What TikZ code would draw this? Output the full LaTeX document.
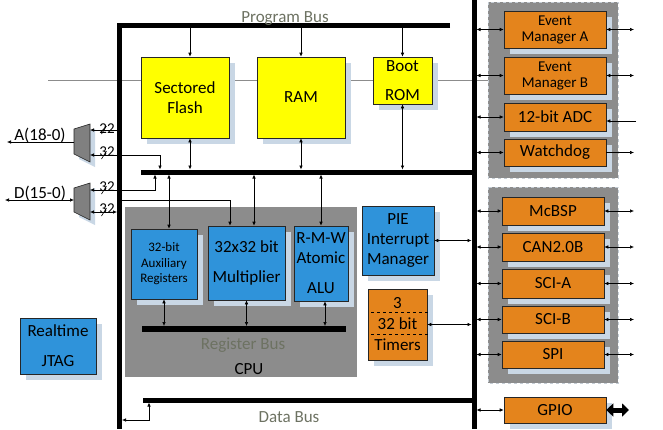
\documentclass[tikz,border=0pt]{standalone}
\usepackage{fontspec}
\setmainfont{Carlito}
\usetikzlibrary{arrows.meta,shadows}
\definecolor{memyellow}{HTML}{FFFF00}
\definecolor{cpublue}{HTML}{2F93DA}
\definecolor{perorange}{HTML}{E4841C}
\definecolor{shadowcol}{HTML}{C9D7E5}
\definecolor{grpgray}{HTML}{8C8C8C}
\definecolor{grpline}{HTML}{C4CCD4}
\definecolor{buslabel}{HTML}{6D7262}
\definecolor{muxgray}{HTML}{808080}
\tikzset{
	unit/.style={draw=black!85,line width=0.6pt,inner sep=1pt,align=center,font=\fontsize{17}{20}\selectfont,drop shadow={shadow xshift=6pt,shadow yshift=-6pt,fill=shadowcol,opacity=1}},
	mem/.style 2 args={unit,fill=memyellow,minimum width=#1pt,minimum height=#2pt},
	cpu/.style 2 args={unit,fill=cpublue,minimum width=#1pt,minimum height=#2pt},
	per/.style 2 args={unit,fill=perorange,minimum width=#1pt,minimum height=#2pt},
	bus/.style={line width=5pt},
	link/.style={line width=0.6pt,-{Latex[length=4pt,width=3.5pt]}},
	dlink/.style={line width=0.6pt,{Latex[length=4pt,width=3.5pt]}-{Latex[length=4pt,width=3.5pt]}},
	grp/.style={fill=grpgray,draw=grpline,dashed,line width=0.8pt},
	buslbl/.style={text=buslabel,font=\fontsize{17}{20}\selectfont,anchor=base,inner sep=0pt},
	wlbl/.style={font=\fontsize{15}{18}\selectfont,anchor=base,inner sep=0pt},
	mux/.style={fill=muxgray,draw=black!85,line width=0.6pt}
}
\begin{document}
\begin{tikzpicture}[x=1pt,y=-1pt]
	\useasboundingbox (0,0) rectangle (663,429);
	\draw[grp] (488,2) rectangle (618,178);
	\draw[grp] (488,187) rectangle (618,383);
	\fill[grpgray] (125,207) rectangle (357,377);
	\draw[black!45,line width=0.5pt] (48,80) -- (488,80);

	\draw[bus] (450,25.4) -- (119.5,25.4) -- (119.5,429);
	\draw[bus] (474,0) -- (474,429);
	\draw[bus] (141,172) -- (474,172);
	\draw[bus,line width=6pt] (142,329) -- (346,329);
	\draw[bus] (143,400) -- (474,400);

	\coordinate (pbbot) at (0,28);
	\coordinate (ibtop) at (0,169.5);
	\coordinate (ibbot) at (0,174.5);
	\coordinate (regtop) at (0,326);
	\coordinate (dbbot) at (0,402.5);
	\coordinate (lbar) at (122,0);
	\coordinate (lbarL) at (117,0);
	\coordinate (rbar) at (476.5,0);
	\coordinate (rbarL) at (471.5,0);
	\coordinate (pinR) at (634,0);
	\coordinate (muxR) at (90,0);

	\node[buslbl] (pbl) at (285,22) {Program Bus};
	\node[buslbl] (rbl) at (243,349) {Register Bus};
	\node[buslbl] (dbl) at (289,422) {Data Bus};
	\node[buslbl,text=black] (cpul) at (249,374) {CPU};

	\node[mem={88}{81}] (flash) at (185,97.5) {Sectored\\Flash};
	\node[mem={88}{81}] (ram) at (301,97.5) {RAM};
	\node[mem={59}{47}] (rom) at (402.5,80.5) {Boot\\[9pt]ROM};

	\node[cpu={66}{70},font=\fontsize{13}{15.5}\selectfont] (aux) at (164,264) {32-bit\\Auxiliary\\Registers};
	\node[cpu={77}{74}] (mul) at (246.5,263) {32x32 bit\\[10pt]Multiplier};
	\node[cpu={54}{75}] (alu) at (321,263.5) {R-M-W\\Atomic\\[10pt]ALU};
	\node[cpu={72}{69}] (pie) at (398,240.5) {PIE\\Interrupt\\Manager};
	\node[per={59}{71},font=\fontsize{17}{21}\selectfont] (tmr) at (397.5,324.5) {3\\32 bit\\Timers};
	\node[cpu={76}{56}] (jtag) at (58,346) {Realtime\\[10pt]JTAG};
	\draw[dashed,line width=0.6pt] (371,312) -- (428,312);
	\draw[dashed,line width=0.6pt] (371,334) -- (428,334);

	\node[per={102}{37},font=\fontsize{15}{16}\selectfont,inner sep=0pt] (ema) at (555,29.5) {Event\\Manager A};
	\node[per={102}{37},font=\fontsize{15}{16}\selectfont,inner sep=0pt] (emb) at (555,75.5) {Event\\Manager B};
	\node[per={102}{28}] (adc) at (555,117) {12-bit ADC};
	\node[per={102}{27}] (wdg) at (555,152.5) {Watchdog};
	\node[per={102}{28}] (mcbsp) at (553,211) {McBSP};
	\node[per={102}{28}] (can) at (553,247) {CAN2.0B};
	\node[per={102}{29}] (scia) at (553,283.5) {SCI-A};
	\node[per={102}{27}] (scib) at (553,319.5) {SCI-B};
	\node[per={102}{27}] (spi) at (553,354.5) {SPI};
	\node[per={102}{26}] (gpio) at (555,410) {GPIO};

	\fill[shadowcol] (79,134) -- (95,129) -- (95,167) -- (79,159) -- cycle;
	\fill[shadowcol] (79,193) -- (95,188) -- (95,225) -- (79,217) -- cycle;
	\draw[mux] (74,129) -- (90,124) -- (90,162) -- (74,154) -- cycle;
	\draw[mux] (74,188) -- (90,183) -- (90,220) -- (74,212) -- cycle;
	\coordinate (muxAl) at (74,142);
	\coordinate (muxDl) at (74,200);
	\coordinate (aout) at (7,142);
	\coordinate (dout) at (5,200);
	\coordinate (w22) at (117,130);
	\coordinate (m32a) at (90,155);
	\coordinate (w32a) at (160,169.5);
	\coordinate (m32d) at (90,190);
	\coordinate (w32d) at (155,174.5);
	\coordinate (m32e) at (90,212);
	\coordinate (w32e) at (117,212);
	\coordinate (wmul) at (122,200);
	\coordinate (wdat) at (122,420);
	\coordinate (xdat) at (149,0);
	\coordinate (xfl) at (190,0);
	\coordinate (xau) at (169,0);
	\coordinate (xmu) at (254,0);
	\coordinate (xmul) at (230,0);
	\coordinate (xal) at (325,0);
	\coordinate (adcin) at (636,121);

	\node[buslbl,text=black] (al) at (40,140) {A(18-0)};
	\node[buslbl,text=black] (dl) at (40,198) {D(15-0)};
	\node[wlbl] (n22) at (107,133) {22};
	\node[wlbl] (n32a) at (107,156) {32};
	\node[wlbl] (n32d) at (107,191) {32};
	\node[wlbl] (n32e) at (107,213) {32};
	\foreach \y in {130,155,190,212}
		\draw[line width=0.6pt] (101.5,\y+4) -- (106.5,\y-4);

	\draw[link] (muxAl) -- (aout);
	\draw[dlink] (muxDl) -- (dout);
	\draw[link] (w22) -- (w22 -| muxR);
	\draw[dlink] (m32a) -| (w32a);
	\draw[dlink] (m32d) -| (w32d);
	\draw[dlink] (m32e) -- (w32e);
	\draw[link] (wmul) -| (xmul |- mul.north);
	\draw[dlink] (wdat) -| (xdat |- dbbot);

	\draw[link] (xfl |- pbbot) -- (xfl |- flash.north);
	\draw[link] (ram.north |- pbbot) -- (ram.north);
	\draw[link] (rom.north |- pbbot) -- (rom.north);
	\draw[dlink] (xfl |- flash.south) -- (xfl |- ibtop);
	\draw[dlink] (ram.south) -- (ram.south |- ibtop);
	\draw[dlink] (rom.south) -- (rom.south |- ibtop);
	\draw[dlink] (xau |- ibbot) -- (xau |- aux.north);
	\draw[dlink] (xmu |- ibbot) -- (xmu |- mul.north);
	\draw[dlink] (alu.north |- ibbot) -- (alu.north);
	\draw[dlink] (aux.south) -- (aux.south |- regtop);
	\draw[dlink] (mul.south) -- (mul.south |- regtop);
	\draw[dlink] (xal |- alu.south) -- (xal |- regtop);
	\draw[dlink] (pie.east) -- (pie.east -| rbarL);
	\draw[dlink] (tmr.east) -- (tmr.east -| rbarL);

	\foreach \n in {ema,emb,adc,wdg,mcbsp,can,scia,scib,spi,gpio}
		\draw[dlink] (\n.west -| rbar) -- (\n.west);
	\foreach \n in {ema,emb,mcbsp,can,scia,scib,spi}
		\draw[dlink] (\n.east) -- (\n.east -| pinR);
	\draw[link] (adcin) -- (adcin -| adc.east);
	\draw[link] (wdg.east) -- (wdg.east -| pinR);
	\draw[line width=5pt,{Triangle[length=7pt,width=13pt]}-{Triangle[length=7pt,width=13pt]}] (gpio.east) -- (gpio.east -| 629,0);
\end{tikzpicture}
\end{document}
